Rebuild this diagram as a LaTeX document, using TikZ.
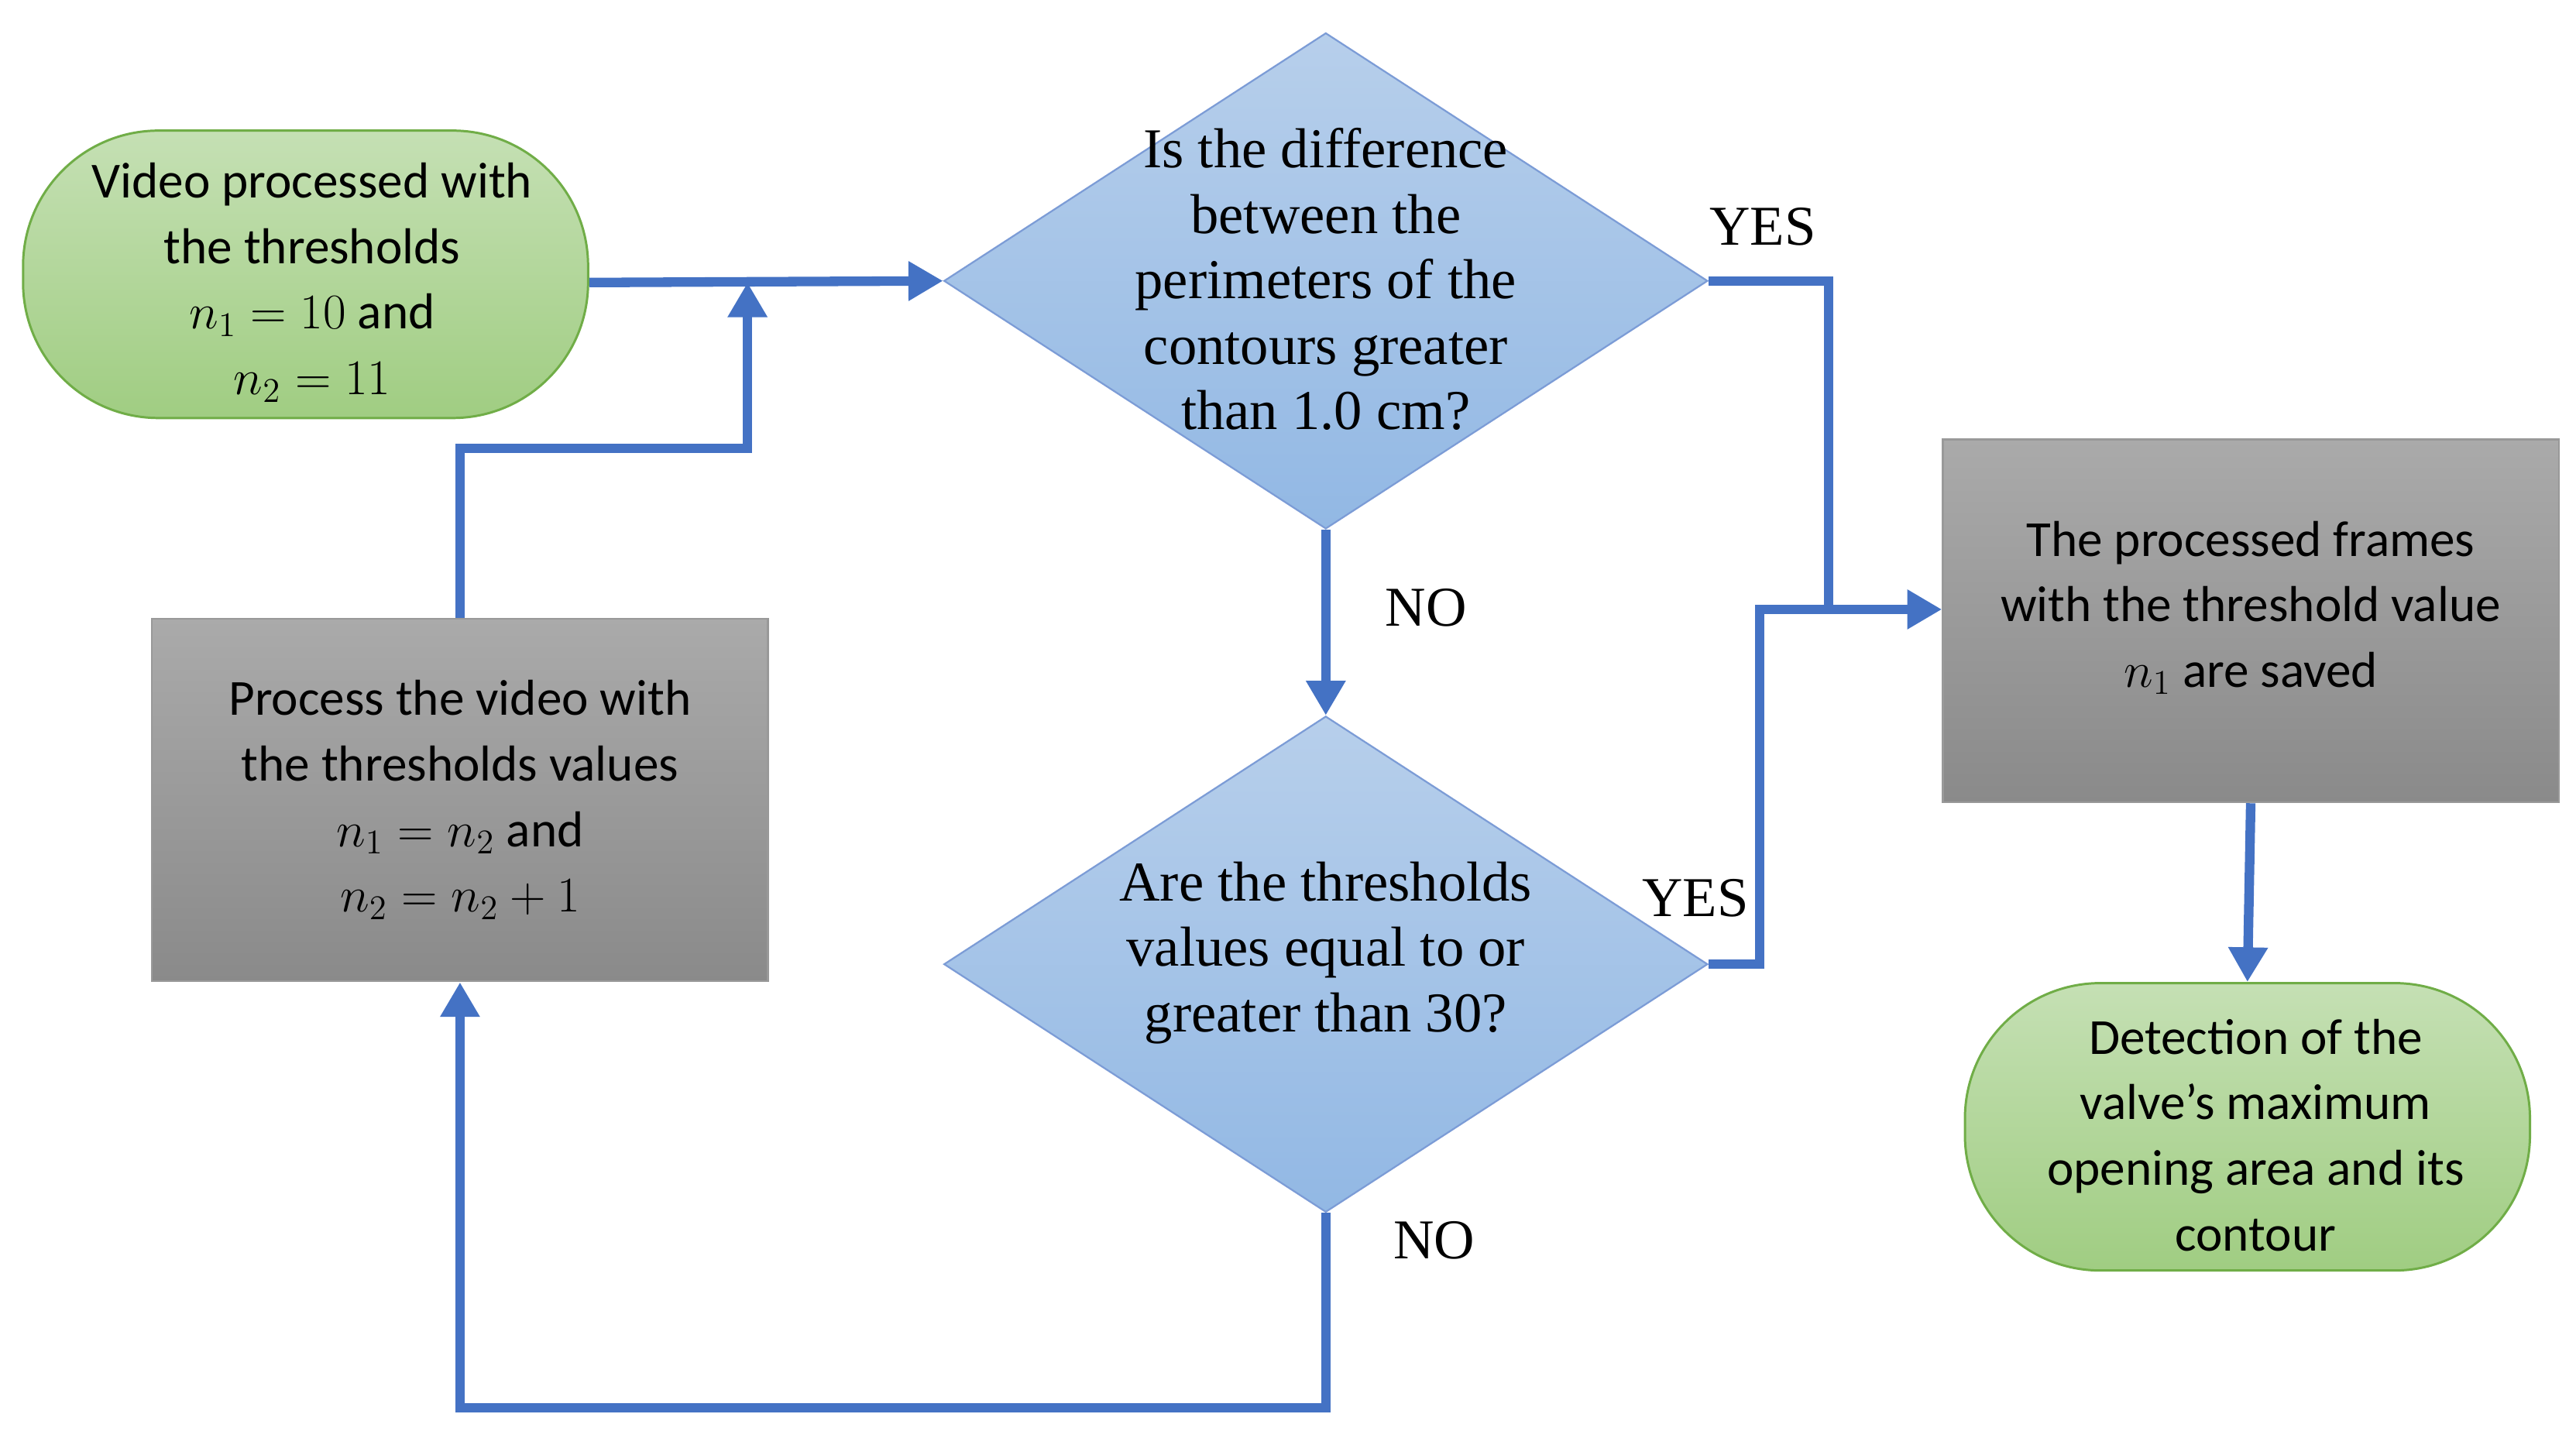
\documentclass[tikz,border=0pt]{standalone}
\usepackage{fontspec}
\setmainfont{Carlito}
\newfontfamily\serifx{Liberation Serif}
\usetikzlibrary{shapes.geometric,arrows.meta}
\definecolor{lblue}{RGB}{68,114,196}
\definecolor{dtop}{RGB}{183,207,235}
\definecolor{dbot}{RGB}{146,184,228}
\definecolor{gtop}{RGB}{197,224,180}
\definecolor{gbot}{RGB}{160,205,130}
\definecolor{gbrd}{RGB}{112,173,71}
\definecolor{ytop}{RGB}{170,170,170}
\definecolor{ybot}{RGB}{138,138,138}
\tikzset{
 txt/.style={align=center,font=\fontsize{17.5}{22.7}\selectfont},
 stxt/.style={align=center,font=\serifx\fontsize{19.5}{22.7}\selectfont},
 green/.style={draw=gbrd,line width=0.8pt,top color=gtop,bottom color=gbot,rounded corners=1.65cm,minimum width=6.88cm,minimum height=3.5cm,txt},
 gray/.style={draw=gray!80,line width=0.6pt,top color=ytop,bottom color=ybot,minimum width=7.5cm,minimum height=4.42cm,txt},
 dia/.style={diamond,draw=lblue!70,line width=0.6pt,top color=dtop,bottom color=dbot,minimum width=9.3cm,minimum height=6.04cm,inner sep=0},
 con/.style={draw=lblue,line width=3.3pt},
 arr/.style={con,-{Triangle[length=12pt,width=13pt]}},
 lab/.style={font=\serifx\fontsize{19.5}{22}\selectfont}
}
\begin{document}
\begin{tikzpicture}[x=0.02cm,y=-0.02cm]
\useasboundingbox (0,0) rectangle (1568,875);
\node[green] (start) at (186,167) {};
\node[txt] (st) at (190,172) {Video processed with\\the thresholds\\$n_1=10$ and\\$n_2=11$};
\node[dia] (d1) at (807,171) {};
\node[stxt] (t1) at (807,170) {Is the difference\\between the\\perimeters of the\\contours greater\\than 1.0 cm?};
\node[dia] (d2) at (807,587) {};
\node[stxt] (t2) at (807,580) {Are the thresholds\\values equal to or\\greater than 30?};
\node[gray] (proc) at (280,487) {Process the video with\\the thresholds values\\$n_1 = n_2$ and\\$n_2 = n_2 + 1$};
\node[gray] (save) at (1370,378) {};
\node[txt] (svt) at (1370,370) {The processed frames\\with the threshold value\\$n_1$ are saved};
\node[green] (end) at (1368,686) {};
\node[txt] (et) at (1373,691) {Detection of the\\valve's maximum\\opening area and its\\contour};
\coordinate (j1) at (455,172);
\coordinate (j2) at (1113,371);
\draw[arr] (start.east|-j1) -- (d1.west);
\draw[arr] (proc.north) |- (455,273) -- (j1);
\draw[con] (d1.east) -| (j2);
\draw[con] (d2.east) -- (1071,587) |- (j2);
\draw[arr] (j2) -- (save.west|-j2);
\draw[arr] (d1.south) -- (d2.north);
\draw[arr] (d2.south) -- (807,857) -| (proc.south);
\draw[arr] (save.south) -- (end.north);
\node[lab] (y1) at (1073,138) {YES};
\node[lab] (y2) at (1032,547) {YES};
\node[lab] (n1) at (868,370) {NO};
\node[lab] (n2) at (873,755) {NO};
\end{tikzpicture}
\end{document}
